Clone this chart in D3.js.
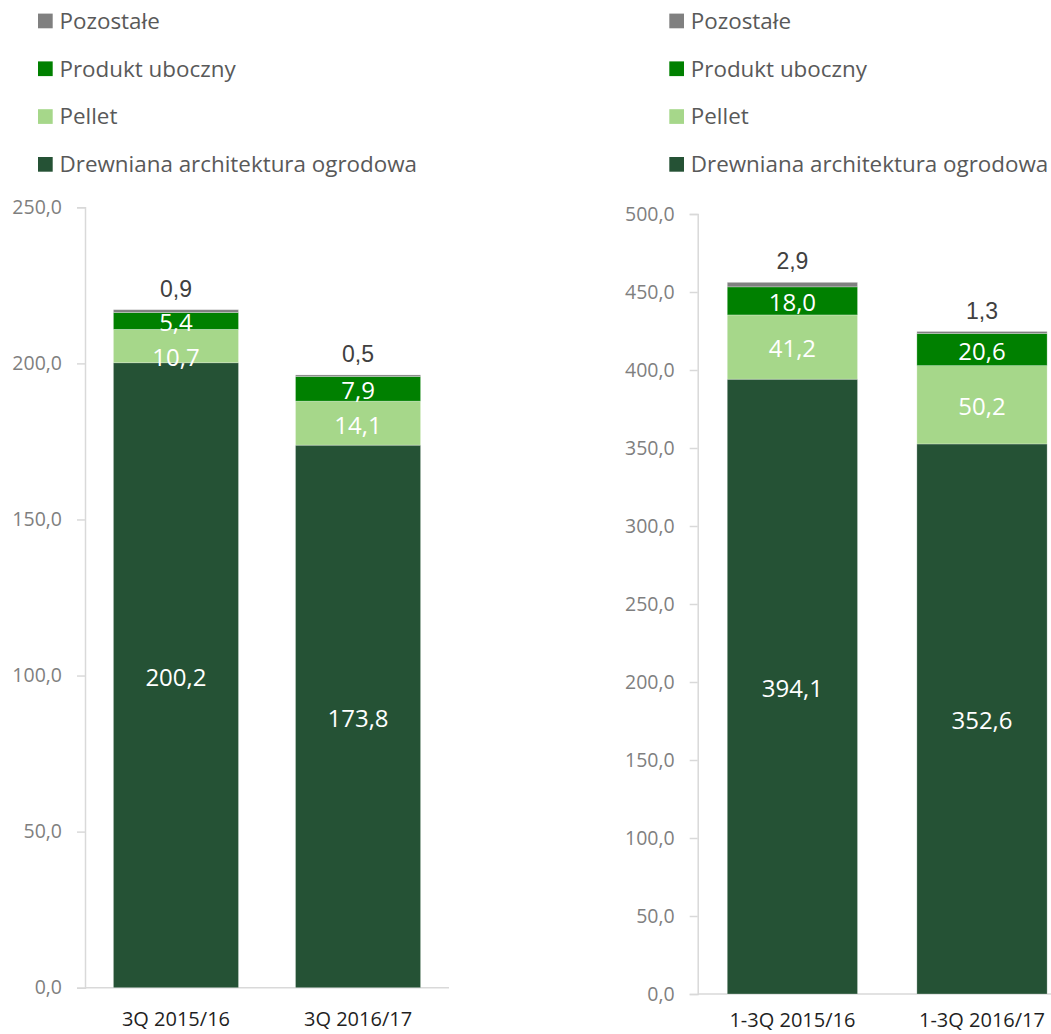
<!DOCTYPE html>
<html lang="pl">
<head>
<meta charset="utf-8">
<script src="https://cdn.jsdelivr.net/npm/d3@7/dist/d3.min.js"></script>
<style>
  html, body { margin: 0; padding: 0; background: #ffffff; }
  svg { display: block; }
</style>
</head>
<body>
<svg id="chart" width="1051" height="1034"></svg>
<script>
// Series, bottom to top of each stack
const seriesNames = ["Drewniana architektura ogrodowa", "Pellet", "Produkt uboczny", "Pozostałe"];
const seriesColors = ["#255235", "#A6D78A", "#008000", "#808080"];

// Quarter (3Q) panel
const quarterCategories = ["3Q 2015/16", "3Q 2016/17"];
const quarterDrewniana = [200.2, 173.8];
const quarterPellet = [10.7, 14.1];
const quarterProdukt = [5.4, 7.9];
const quarterPozostale = [0.9, 0.5];
const quarterTicks = [0, 50, 100, 150, 200, 250];

// Year-to-date (1-3Q) panel
const ytdCategories = ["1-3Q 2015/16", "1-3Q 2016/17"];
const ytdDrewniana = [394.1, 352.6];
const ytdPellet = [41.2, 50.2];
const ytdProdukt = [18.0, 20.6];
const ytdPozostale = [2.9, 1.3];
const ytdTicks = [0, 50, 100, 150, 200, 250, 300, 350, 400, 450, 500];

const plLocale = d3.formatLocale({ decimal: ",", thousands: " ", grouping: [3], currency: ["", " zł"] });
const fmt = plLocale.format(".1f");

const FONT = "'Open Sans', 'Noto Sans', sans-serif";
const HEIGHT = 1034;
const svg = d3.select("#chart");

function drawPanel(opt) {
  const g = svg.append("g");
  const rows = opt.categories.map((c, i) => {
    const r = { category: c };
    seriesNames.forEach((n, k) => { r[n] = opt.values[k][i]; });
    return r;
  });
  const stacked = d3.stack().keys(seriesNames)(rows);

  const x = d3.scaleBand()
    .domain(opt.categories)
    .range(opt.xRange)
    .paddingInner(0.313)
    .paddingOuter(0.156);
  const y = d3.scaleLinear().domain(opt.yDomain).range(opt.yRange);

  // y axis
  const yAxis = d3.axisLeft(y)
    .tickValues(opt.ticks)
    .tickSize(8)
    .tickPadding(15)
    .tickFormat(fmt);
  const ya = g.append("g")
    .attr("transform", `translate(${opt.xRange[0]},0)`)
    .call(yAxis);
  ya.select(".domain").attr("stroke", "#D9D9D9").attr("stroke-width", 1.5);
  ya.selectAll(".tick line").attr("stroke", "#D9D9D9").attr("stroke-width", 1.5);
  ya.selectAll(".tick text")
    .attr("fill", "#7F7F7F")
    .style("font-family", FONT)
    .style("font-size", "19.5px");

  // baseline
  g.append("line")
    .attr("x1", opt.xRange[0]).attr("x2", opt.xRange[1])
    .attr("y1", y(0)).attr("y2", y(0))
    .attr("stroke", "#D9D9D9").attr("stroke-width", 1.5);

  // stacked bars
  const layers = g.selectAll("g.layer")
    .data(stacked)
    .join("g")
    .attr("class", "layer")
    .attr("fill", (d, i) => seriesColors[i]);
  layers.selectAll("rect")
    .data(d => d)
    .join("rect")
    .attr("x", d => x(d.data.category))
    .attr("width", x.bandwidth())
    .attr("y", d => y(d[1]))
    .attr("height", d => y(d[0]) - y(d[1]))
    .attr("stroke", "#ffffff")
    .attr("stroke-opacity", 0.35)
    .attr("stroke-width", 0.75);

  // value labels inside the three lower segments; placed from the top of
  // each stack downwards so that neighbouring labels never collide
  const minGap = 35;
  opt.categories.forEach((cat, i) => {
    let prevY = -Infinity;
    [2, 1, 0].forEach(k => {
      const d = stacked[k][i];
      let cy = (y(d[0]) + y(d[1])) / 2 + 2;
      if (cy - prevY < minGap) cy = prevY + minGap;
      prevY = cy;
      g.append("text")
        .attr("x", x(cat) + x.bandwidth() / 2)
        .attr("y", cy)
        .attr("dy", "0.35em")
        .attr("text-anchor", "middle")
        .attr("fill", "#ffffff")
        .style("font-family", FONT)
        .style("font-size", "24px")
        .text(fmt(d[1] - d[0]));
    });
  });

  // "Pozostałe" value above each stack
  const top = stacked[3];
  g.append("g").selectAll("text")
    .data(top)
    .join("text")
    .attr("x", d => x(d.data.category) + x.bandwidth() / 2)
    .attr("y", d => y(d[1]) - 21)
    .attr("dy", "0.35em")
    .attr("text-anchor", "middle")
    .attr("fill", "#404040")
    .style("font-family", "'Liberation Sans', Arial, sans-serif")
    .style("font-size", "23px")
    .text(d => fmt(d[1] - d[0]));

  // category labels, kept inside the drawing area
  g.append("g").selectAll("text")
    .data(opt.categories)
    .join("text")
    .attr("x", d => x(d) + x.bandwidth() / 2)
    .attr("y", Math.min(y(0) + 31, HEIGHT - 14))
    .attr("dy", "0.35em")
    .attr("text-anchor", "middle")
    .attr("fill", "#1F1F1F")
    .style("font-family", FONT)
    .style("font-size", "20px")
    .text(d => d);

  // legend (top of stack first)
  const legendItems = seriesNames.map((n, i) => ({ name: n, color: seriesColors[i] })).reverse();
  const item = g.append("g").selectAll("g")
    .data(legendItems)
    .join("g")
    .attr("transform", (d, i) => `translate(${opt.legendX},${21 + i * 47.8})`);
  item.append("rect")
    .attr("x", 0).attr("y", -7.4)
    .attr("width", 14.7).attr("height", 14.7)
    .attr("fill", d => d.color);
  item.append("text")
    .attr("x", 21.5)
    .attr("dy", "0.35em")
    .attr("fill", "#595959")
    .style("font-family", FONT)
    .style("font-size", "22.4px")
    .text(d => d.name);
}

drawPanel({
  categories: quarterCategories,
  values: [quarterDrewniana, quarterPellet, quarterProdukt, quarterPozostale],
  ticks: quarterTicks,
  yDomain: [0, 250],
  yRange: [987.7, 207.3],
  xRange: [85, 449],
  legendX: 38
});

drawPanel({
  categories: ytdCategories,
  values: [ytdDrewniana, ytdPellet, ytdProdukt, ytdPozostale],
  ticks: ytdTicks,
  yDomain: [0, 500],
  yRange: [994, 214],
  xRange: [697.7, 1076.7],
  legendX: 669.3
});
</script>
</body>
</html>
